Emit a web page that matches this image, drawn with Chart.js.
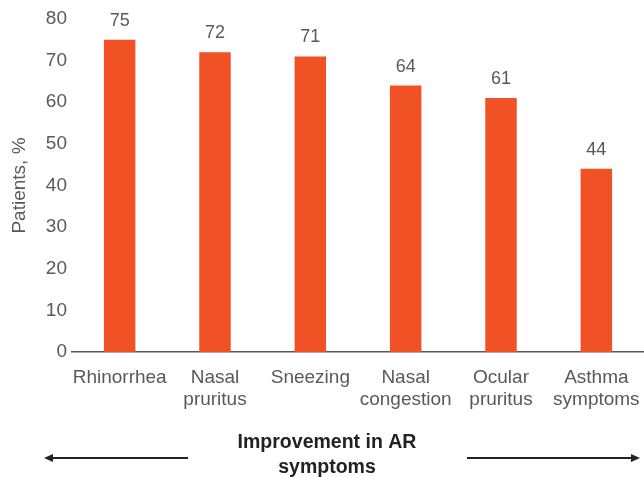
<!DOCTYPE html>
<html>
<head>
<meta charset="utf-8">
<script src="https://cdn.jsdelivr.net/npm/chart.js@4/dist/chart.umd.min.js"></script>
<style>
  body { margin: 0; background: #fff; }
  #wrap { width: 644px; height: 477px; }
</style>
</head>
<body>
<div id="wrap"><canvas id="grafico" width="644" height="477"></canvas></div>
<script>
var categorias = [["Rhinorrhea"], ["Nasal", "pruritus"], ["Sneezing"], ["Nasal", "congestion"], ["Ocular", "pruritus"], ["Asthma", "symptoms"]];
var pacientes = [75, 72, 71, 64, 61, 44];
var tituloX = ["Improvement in AR", "symptoms"];
var tituloY = "Patients, %";

var gris = "#595959";
var fuente = "'Liberation Sans', Arial, sans-serif";

// numeros encima de las barras
var etiquetas = {
  id: "etiquetas",
  afterDatasetsDraw: function (chart) {
    var ctx = chart.ctx;
    var meta = chart.getDatasetMeta(0);
    ctx.save();
    ctx.fillStyle = gris;
    ctx.font = "18px " + fuente;
    ctx.textAlign = "center";
    ctx.textBaseline = "bottom";
    meta.data.forEach(function (bar, i) {
      ctx.fillText(pacientes[i], bar.x, bar.y - 10);
    });
    ctx.restore();
  }
};

// titulo de abajo con flechas
var flechas = {
  id: "flechas",
  afterDraw: function (chart) {
    var ctx = chart.ctx;
    ctx.save();
    ctx.fillStyle = "#222";
    ctx.font = "bold 19.5px " + fuente;
    ctx.textAlign = "center";
    ctx.textBaseline = "middle";
    ctx.fillText(tituloX[0], 327, 443);
    ctx.fillText(tituloX[1], 327, 468);

    ctx.strokeStyle = "#222";
    ctx.lineWidth = 2;
    var y = 458;
    ctx.beginPath();
    ctx.moveTo(188, y); ctx.lineTo(50, y);
    ctx.moveTo(467, y); ctx.lineTo(634, y);
    ctx.stroke();
    ctx.beginPath();
    ctx.moveTo(44, y); ctx.lineTo(53, y - 4); ctx.lineTo(53, y + 4); ctx.closePath();
    ctx.moveTo(640, y); ctx.lineTo(631, y - 4); ctx.lineTo(631, y + 4); ctx.closePath();
    ctx.fill();
    ctx.restore();
  }
};

new Chart(document.getElementById("grafico"), {
  type: "bar",
  data: {
    labels: categorias,
    datasets: [{
      label: tituloY,
      data: pacientes,
      backgroundColor: "#F05125",
      categoryPercentage: 1,
      barPercentage: 0.33
    }]
  },
  options: {
    responsive: false,
    animation: false,
    layout: { padding: { top: 19, right: 0, left: 0, bottom: 0 } },
    plugins: {
      legend: { display: false },
      tooltip: { enabled: false }
    },
    scales: {
      x: {
        grid: { display: false },
        border: { display: true, color: gris, width: 1.5 },
        ticks: { color: gris, font: { family: fuente, size: 19 }, padding: 6, maxRotation: 0, autoSkip: false },
        afterFit: function (s) { s.height = 125; s.paddingRight = 0; s.paddingLeft = 0; }
      },
      y: {
        min: 0,
        max: 80,
        grid: { display: false, drawTicks: false },
        border: { display: false },
        ticks: { stepSize: 10, color: gris, font: { family: fuente, size: 19 }, padding: 5 },
        title: { display: true, text: tituloY, color: gris, font: { family: fuente, size: 19 }, padding: { top: 8, bottom: 0 } },
        afterFit: function (s) { s.width = 72; }
      }
    }
  },
  plugins: [etiquetas, flechas]
});
</script>
</body>
</html>
